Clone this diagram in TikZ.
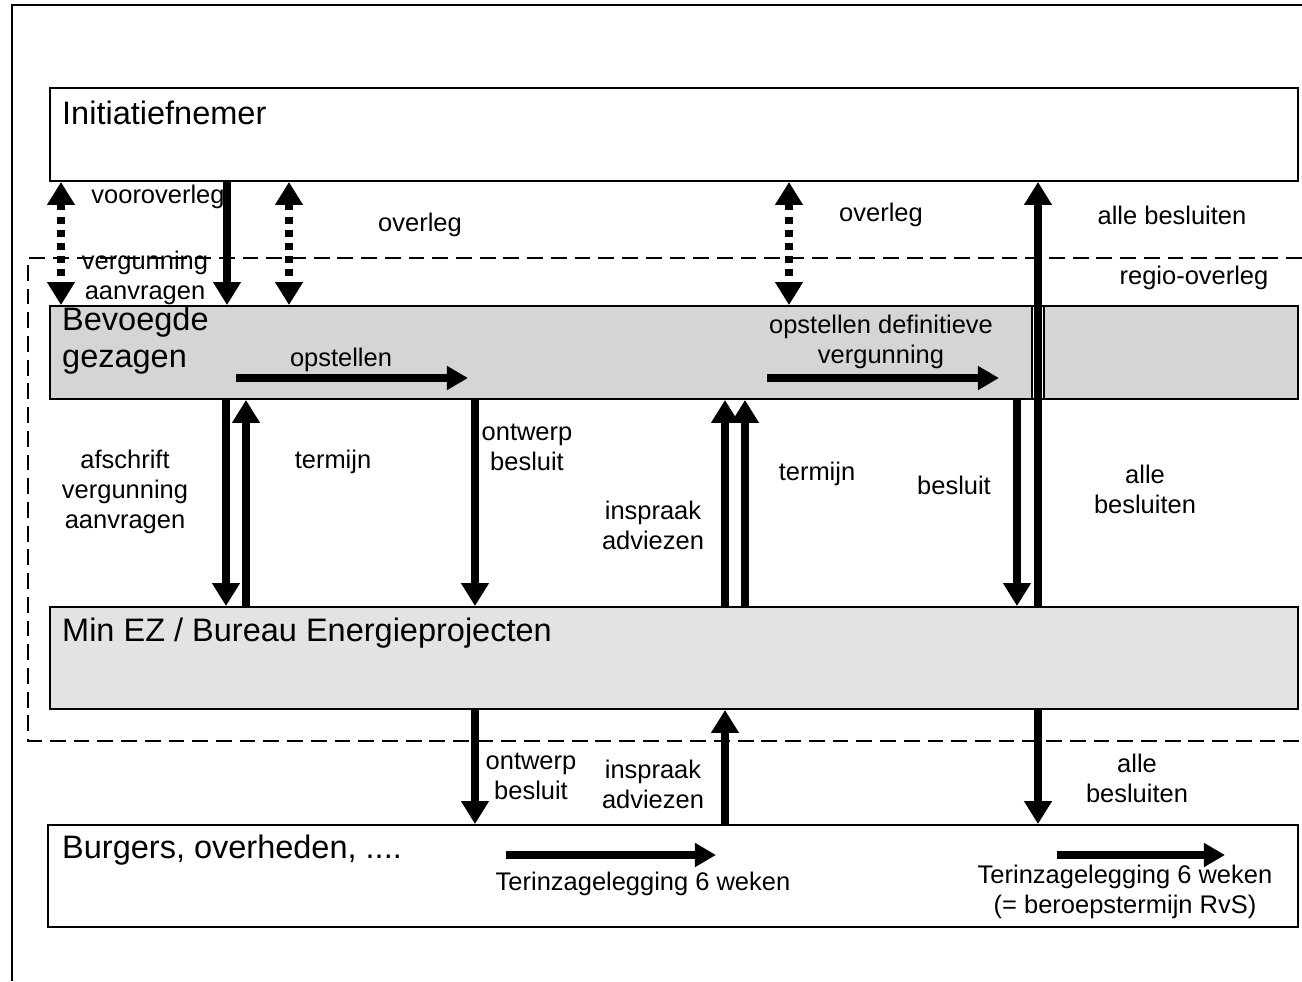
\documentclass[tikz,border=0pt]{standalone}
\usepackage{fontspec}
\setmainfont{Liberation Sans}
\usepackage{tikz}
\usetikzlibrary{arrows.meta,calc,positioning}

\tikzset{
  lane/.style={draw, line width=1.1pt, minimum width=24.96cm, inner sep=0pt},
  heading/.style={anchor=west, font=\fontsize{18.5}{21}\selectfont},
  lbl/.style={font=\fontsize{14.5}{17}\selectfont, align=center},
  bigarrow/.style={line width=4pt, -{Triangle[width=15pt,length=13pt]}},
  talkarrow/.style={line width=4pt, dash pattern=on 4pt off 3.5pt,
    {Triangle[width=15pt,length=13pt]}-{Triangle[width=15pt,length=13pt]}},
  flow/.style={line width=4pt, -{Triangle[width=13pt,length=12pt]}}
}

\begin{document}
\begin{tikzpicture}[x=0.02cm, y=-0.02cm]
\useasboundingbox (0,0) rectangle (1302,981);

% frame
\draw[line width=1.1pt] (12,981) -- (12,5) -- (1302,5);

% regio-overleg area
\draw[line width=1pt, dash pattern=on 9pt off 4.5pt] (1302,258) -- (28,258) -- (28,741) -- (1302,741);

% the four lanes
\node[lane, fill=white, minimum height=1.86cm] (init) at (674,134.5) {};
\node[lane, fill=gray!33, minimum height=1.86cm] (bevoegd) at (674,352.5) {};
\node[lane, fill=gray!22, minimum height=2.04cm] (minez) at (674,658) {};
\node[lane, fill=white, minimum width=25cm, minimum height=2.04cm] (burgers) at (673,876) {};

\node[heading] (tinit) at (56,113) {Initiatiefnemer};
\node[heading, align=left] (tbev) at (56,341) {Bevoegde\\gezagen};
\node[heading] (tminez) at (56,633) {Min EZ / Bureau Energieprojecten};
\node[heading] (tburg) at (56,850) {Burgers, overheden, ....};

% column positions of the vertical arrows
\coordinate (c1) at (61,0);
\coordinate (c2) at (227,0);
\coordinate (c3) at (289,0);
\coordinate (c4) at (789,0);
\coordinate (c5) at (1038,0);
\coordinate (d1) at (226,0);
\coordinate (d2) at (246,0);
\coordinate (d3) at (475,0);
\coordinate (d4) at (725,0);
\coordinate (d5) at (745,0);
\coordinate (d6) at (1017,0);

% Initiatiefnemer <-> Bevoegde gezagen
\draw[talkarrow] (init.south -| c1) -- (bevoegd.north -| c1);
\draw[bigarrow] (init.south -| c2) -- (bevoegd.north -| c2);
\draw[talkarrow] (init.south -| c3) -- (bevoegd.north -| c3);
\draw[talkarrow] (init.south -| c4) -- (bevoegd.north -| c4);

% gap in Bevoegde gezagen for the long arrow
\fill[white] (1032,307) rectangle (1044,398);
\draw[line width=1.1pt] (1032,306) -- (1032,399) (1044,306) -- (1044,399);
\draw[bigarrow] (minez.north -| c5) -- (init.south -| c5);

\node[lbl] (l1) at (158,197) {vooroverleg};
\node[lbl] (l2) at (145,278) {vergunning\\aanvragen};
\node[lbl] (l3) at (420,225) {overleg};
\node[lbl] (l4) at (881,215) {overleg};
\node[lbl] (l5) at (1172,215) {alle besluiten};
\node[lbl] (l6) at (1194,278) {regio-overleg};

% inside Bevoegde gezagen
\coordinate (h1s) at (236,378);
\coordinate (h1e) at (468,378);
\coordinate (h2s) at (767,378);
\coordinate (h2e) at (999,378);
\draw[flow] (h1s) -- (h1e);
\draw[flow] (h2s) -- (h2e);
\node[lbl] (l7) at (341,360) {opstellen};
\node[lbl] (l8) at (881,342) {opstellen definitieve\\vergunning};

% Bevoegde gezagen <-> Min EZ
\draw[bigarrow] (bevoegd.south -| d1) -- (minez.north -| d1);
\draw[bigarrow] (minez.north -| d2) -- (bevoegd.south -| d2);
\draw[bigarrow] (bevoegd.south -| d3) -- (minez.north -| d3);
\draw[bigarrow] (minez.north -| d4) -- (bevoegd.south -| d4);
\draw[bigarrow] (minez.north -| d5) -- (bevoegd.south -| d5);
\draw[bigarrow] (bevoegd.south -| d6) -- (minez.north -| d6);

\node[lbl] (l9) at (125,492) {afschrift\\vergunning\\aanvragen};
\node[lbl] (l10) at (333,462) {termijn};
\node[lbl] (l11) at (527,447) {ontwerp\\besluit};
\node[lbl] (l12) at (653,525) {inspraak\\adviezen};
\node[lbl] (l13) at (817,474) {termijn};
\node[lbl] (l14) at (954,485) {besluit};
\node[lbl] (l15) at (1145,489) {alle\\besluiten};

% Min EZ <-> Burgers
\draw[bigarrow] (minez.south -| d3) -- (burgers.north -| d3);
\draw[bigarrow] (burgers.north -| d4) -- (minez.south -| d4);
\draw[bigarrow] (minez.south -| c5) -- (burgers.north -| c5);

\node[lbl] (l16) at (531,776) {ontwerp\\besluit};
\node[lbl] (l17) at (653,784) {inspraak\\adviezen};
\node[lbl] (l18) at (1137,778) {alle\\besluiten};

% inside Burgers
\coordinate (h3s) at (506,855);
\coordinate (h3e) at (716,855);
\coordinate (h4s) at (1057,855);
\coordinate (h4e) at (1225,855);
\draw[flow] (h3s) -- (h3e);
\draw[flow] (h4s) -- (h4e);
\node[lbl] (l19) at (643,884) {Terinzagelegging 6 weken};
\node[lbl] (l20) at (1125,892) {Terinzagelegging 6 weken\\(= beroepstermijn RvS)};
\end{tikzpicture}
\end{document}
